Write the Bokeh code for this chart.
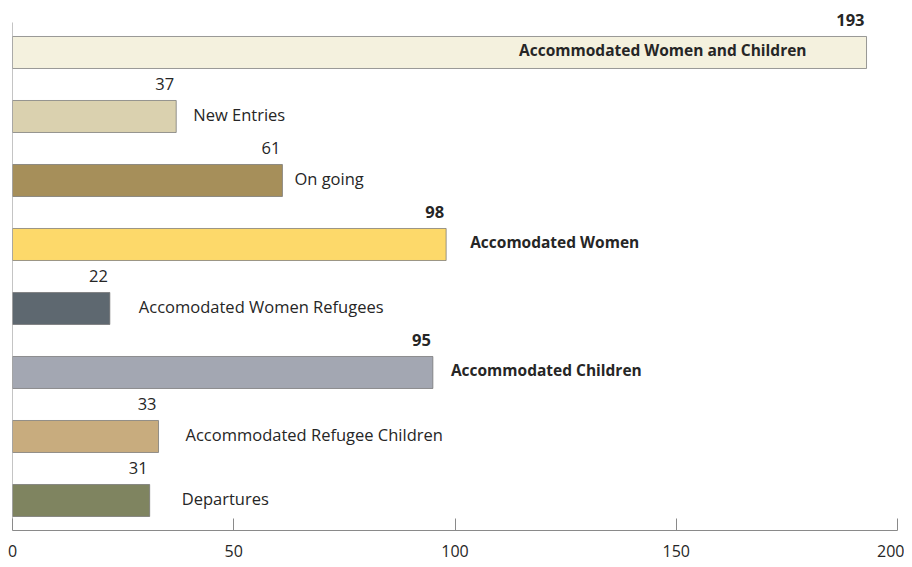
from bokeh.plotting import figure
from bokeh.models import ColumnDataSource, Range1d, FixedTicker
from bokeh.core.properties import value
from bokeh.embed import file_html
from bokeh.resources import INLINE

categories = [
    "Accommodated Women and Children",
    "New Entries",
    "On going",
    "Accomodated Women",
    "Accomodated Women Refugees",
    "Accommodated Children",
    "Accommodated Refugee Children",
    "Departures",
]
values = [193, 37, 61, 98, 22, 95, 33, 31]
colors = ["#F4F1DE", "#DAD1AF", "#A68F5A", "#FDD96A", "#5E6870",
          "#A3A7B2", "#C8AC7E", "#7F8460"]
bold = [True, False, False, True, False, True, False, False]
ticks = [0, 50, 100, 150, 200]

# styling: label placement relative to bar end (screen px)
label_offsets = [-60, 17, 12, 24, 29, 18, 27, 32]
label_align = ["right"] + ["left"] * 7

ypos = list(range(len(categories)))
src = ColumnDataSource(dict(
    y=ypos, v=values, c=colors, lab=categories,
    style=["bold" if b else "normal" for b in bold],
    fs=["15.5px" if b else "16.5px" for b in bold],
    lx=label_offsets, la=label_align,
    vlab=[str(v) for v in values],
))

p = figure(width=904, height=563, output_backend="svg", toolbar_location=None,
           x_range=Range1d(0, 200), y_range=Range1d(7.469, -0.6875),
           min_border_left=12, min_border_right=7, min_border_top=8,
           min_border_bottom=33)
p.outline_line_color = None
p.xgrid.visible = False
p.ygrid.visible = False
p.yaxis.visible = False

p.hbar(y="y", right="v", left=0, height=0.5, fill_color="c", source=src,
       line_color="#6f6f6f", line_alpha=0.7, line_width=1)

# left axis line
p.segment(x0=[0], y0=[-0.469], x1=[0], y1=[7.469], line_color="#8a8a8a", line_width=1)

p.text(x="v", y="y", text="lab", source=src, x_offset="lx", y_offset=-2,
       text_align="la", text_baseline="middle", text_font=value("Open Sans"),
       text_font_size="fs", text_font_style="style", text_color="#262626")
p.text(x="v", y="y", text="vlab", source=src, x_offset=-2, y_offset=-26,
       text_align="right", text_baseline="bottom", text_font=value("Open Sans"),
       text_font_size="16.5px", text_font_style="style", text_color="#262626")

ax = p.xaxis[0]
ax.ticker = FixedTicker(ticks=ticks)
ax.axis_line_color = "#8a8a8a"
ax.major_tick_line_color = "#8a8a8a"
ax.major_tick_in = 12
ax.major_tick_out = 0
ax.minor_tick_line_color = None
ax.major_label_standoff = 14
ax.major_label_text_font = "Open Sans"
ax.major_label_text_font_size = "16px"
ax.major_label_text_color = "#262626"

open("out.html", "w").write(file_html(p, INLINE))
